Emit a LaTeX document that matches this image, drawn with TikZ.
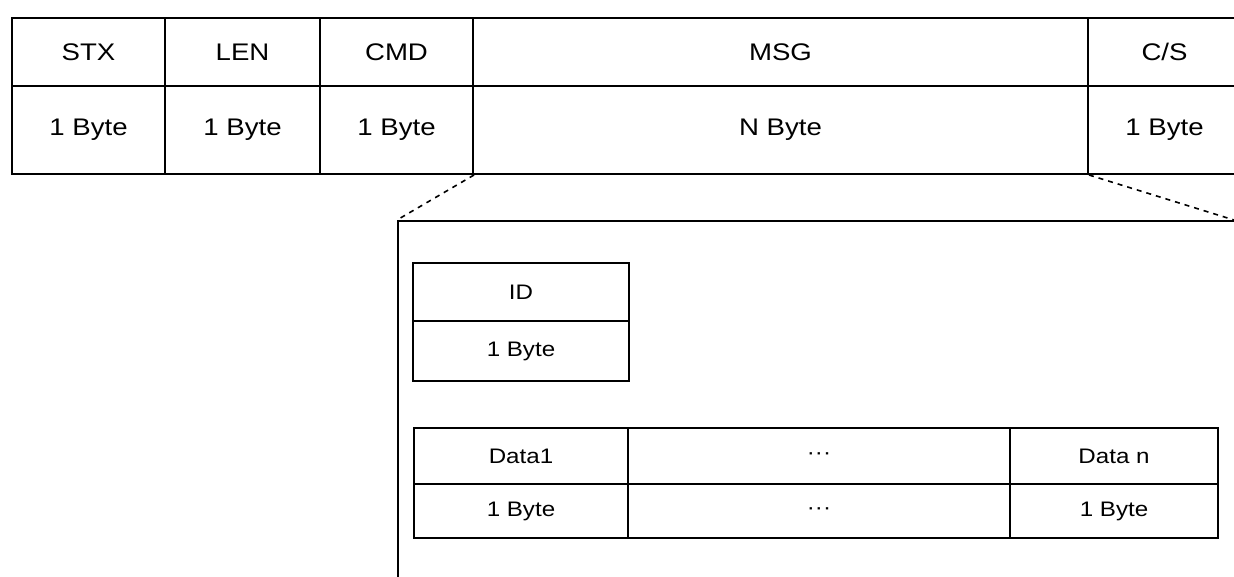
\documentclass[tikz,border=0pt]{standalone}
\usepackage{fontspec}
\setmainfont{Liberation Sans}[FakeStretch=1.15]
\begin{document}
\begin{tikzpicture}[x=1pt,y=-1pt,
  cell/.style={draw, line width=2pt, inner sep=0pt, anchor=north west, font=\fontsize{24}{28}\selectfont},
  icell/.style={draw, line width=2pt, inner sep=0pt, anchor=north west, font=\fontsize{21}{25}\selectfont},
  zoomline/.style={line width=1.6pt, dash pattern=on 5pt off 5pt}]
\useasboundingbox (0,0) rectangle (1234,577);
% top table
\node[cell, minimum width=153pt, minimum height=68pt] (stx) at (11,17) {STX};
\node[cell, minimum width=155pt, minimum height=68pt] (len) at (164,17) {LEN};
\node[cell, minimum width=153pt, minimum height=68pt] (cmd) at (319,17) {CMD};
\node[cell, minimum width=615pt, minimum height=68pt] (msg) at (472,17) {MSG};
\node[cell, minimum width=153pt, minimum height=68pt] (cs) at (1087,17) {C/S};
\node[cell, minimum width=153pt, minimum height=88pt] (stxb) at (11,85) {1 Byte};
\node[cell, minimum width=155pt, minimum height=88pt] (lenb) at (164,85) {1 Byte};
\node[cell, minimum width=153pt, minimum height=88pt] (cmdb) at (319,85) {1 Byte};
\node[cell, minimum width=615pt, minimum height=88pt] (msgb) at (472,85) {N Byte};
\node[cell, minimum width=153pt, minimum height=88pt] (csb) at (1087,85) {1 Byte};
% zoom box
\node[draw, line width=2pt, anchor=north west, minimum width=860pt, minimum height=380pt] (inner) at (397,220) {};
\coordinate (rc) at (1234,220);
\draw[zoomline] (cmdb.south east) -- (inner.north west);
\draw[zoomline] (msgb.south east) -- (rc);
% ID box
\node[icell, minimum width=216pt, minimum height=58pt] (id) at (412,262) {ID};
\node[icell, minimum width=216pt, minimum height=60pt] (idb) at (412,320) {1 Byte};
% data table
\node[icell, minimum width=214pt, minimum height=56pt] (d1) at (413,427) {Data1};
\node[icell, minimum width=382pt, minimum height=56pt] (dd) at (627,427) {···};
\node[icell, minimum width=208pt, minimum height=56pt] (dn) at (1009,427) {Data n};
\node[icell, minimum width=214pt, minimum height=54pt] (d1b) at (413,483) {1 Byte};
\node[icell, minimum width=382pt, minimum height=54pt] (ddb) at (627,483) {···};
\node[icell, minimum width=208pt, minimum height=54pt] (dnb) at (1009,483) {1 Byte};
\end{tikzpicture}
\end{document}
